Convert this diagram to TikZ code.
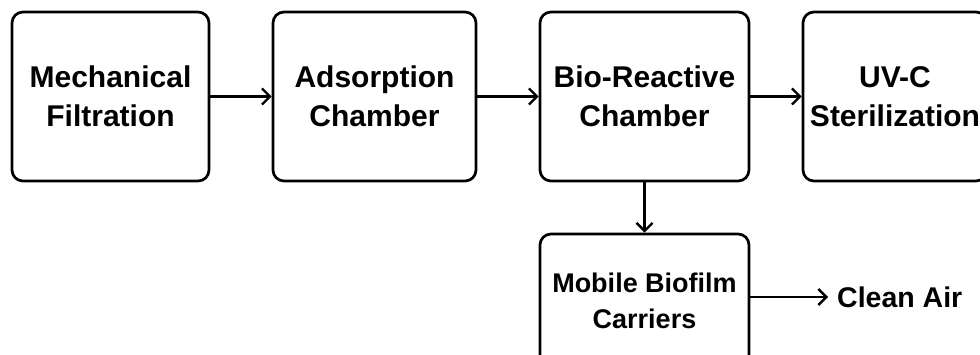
\documentclass[tikz,border=0pt]{standalone}
\usepackage{fontspec}
\setmainfont{Liberation Sans}
\usetikzlibrary{arrows.meta}
\tikzset{
  box/.style={draw=black, line width=2.7pt, rounded corners=11pt, fill=white,
    align=center, inner sep=0pt, font=\bfseries\fontsize{30}{39}\selectfont},
  arr/.style={line width=2.7pt, -{Straight Barb[length=8pt,width=16pt,line width=2.4pt]}}
}
\begin{document}
\begin{tikzpicture}[x=1pt,y=-1pt]
\useasboundingbox[fill=white] (0,0) rectangle (980,355);
\node[box, minimum width=197pt, minimum height=169pt] (b1) at (110.5,96.5) {Mechanical\\Filtration};
\node[box, minimum width=203pt, minimum height=169pt] (b2) at (374.5,96.5) {Adsorption\\Chamber};
\node[box, minimum width=209pt, minimum height=169pt] (b3) at (644.5,96.5) {Bio-Reactive\\Chamber};
\node[box, minimum width=184pt, minimum height=169pt] (b4) at (895,96.5) {UV-C\\Sterilization};
\node[box, minimum width=209pt, minimum height=134pt, font=\bfseries\fontsize{27}{36}\selectfont] (b5) at (644.5,301) {Mobile Biofilm\\Carriers};
\node[anchor=west, inner sep=0pt, font=\bfseries\fontsize{28.5}{34}\selectfont] (clean) at (837,297) {Clean Air};
\coordinate (cleanin) at (828,297);
\draw[arr] (b1) -- (b2);
\draw[arr] (b2) -- (b3);
\draw[arr] (b3) -- (b4);
\draw[arr] (b3) -- (b5);
\draw[arr] (b5.east |- cleanin) -- (cleanin);
\end{tikzpicture}
\end{document}
